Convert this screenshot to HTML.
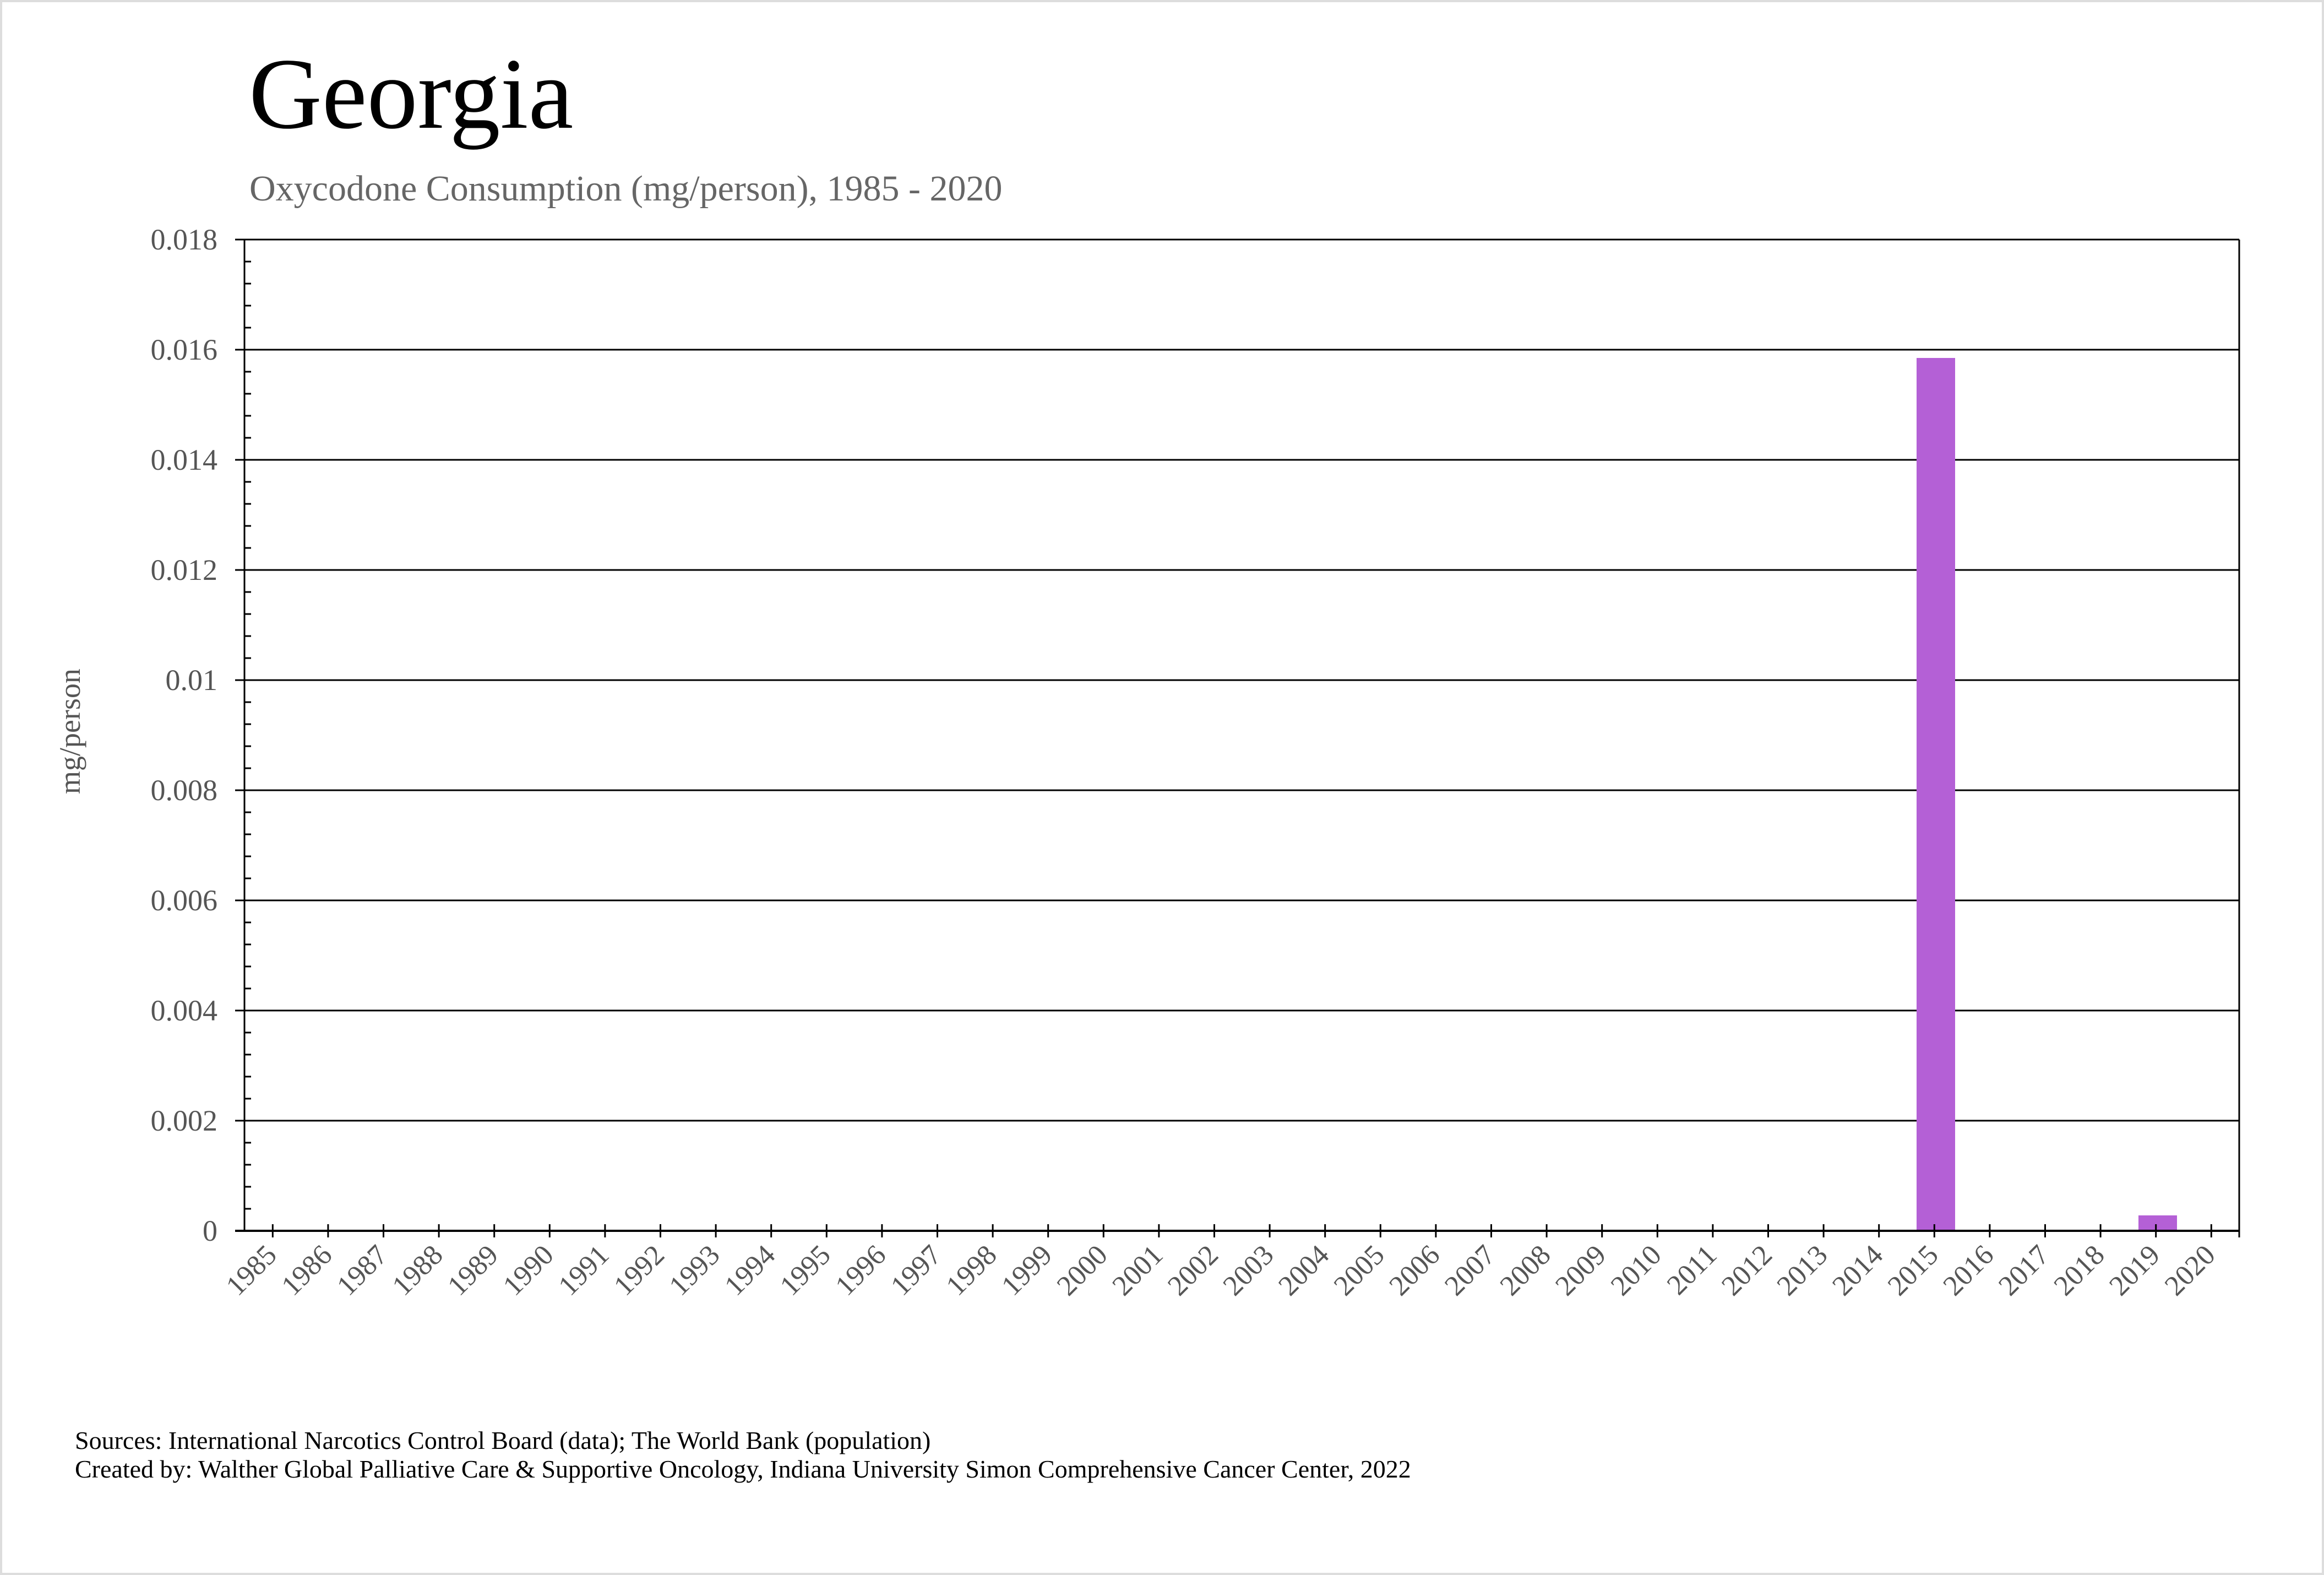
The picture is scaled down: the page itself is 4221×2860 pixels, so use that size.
<!DOCTYPE html>
<html><head><meta charset="utf-8"><style>
html,body{margin:0;padding:0;background:#fff}
svg{display:block}
</style></head><body>
<svg width="4221" height="2860" viewBox="0 0 4221 2860" xmlns="http://www.w3.org/2000/svg" font-family="'Liberation Serif', serif">
<rect x="2" y="2" width="4217" height="2856" fill="#fff" stroke="#ddd" stroke-width="4"/>
<text x="452" y="232" font-size="184" fill="#000">Georgia</text>
<text x="453" y="364" font-size="66" fill="#666">Oxycodone Consumption (mg/person), 1985 - 2020</text>
<g stroke="#000" stroke-width="3">
<line x1="427" y1="435" x2="4067" y2="435"/>
<line x1="427" y1="635" x2="4067" y2="635"/>
<line x1="427" y1="835" x2="4067" y2="835"/>
<line x1="427" y1="1035" x2="4067" y2="1035"/>
<line x1="427" y1="1235" x2="4067" y2="1235"/>
<line x1="427" y1="1435" x2="4067" y2="1435"/>
<line x1="427" y1="1635" x2="4067" y2="1635"/>
<line x1="427" y1="1835" x2="4067" y2="1835"/>
<line x1="427" y1="2035" x2="4067" y2="2035"/>
<line x1="4067" y1="435" x2="4067" y2="2247"/>
<line x1="444" y1="435" x2="444" y2="2235"/>
</g>
<g fill="#b460d6">
<rect x="3481" y="650" width="70" height="1585"/>
<rect x="3884" y="2207" width="70" height="28"/>
</g>
<line x1="427" y1="2235" x2="4067" y2="2235" stroke="#000" stroke-width="4"/>
<g id="minor" stroke="#000" stroke-width="3"></g>
<g id="xt" stroke="#000" stroke-width="3"></g>
<g id="yl" font-size="54" fill="#555" text-anchor="end">
<text x="395" y="453">0.018</text>
<text x="395" y="653">0.016</text>
<text x="395" y="853">0.014</text>
<text x="395" y="1053">0.012</text>
<text x="395" y="1253">0.01</text>
<text x="395" y="1453">0.008</text>
<text x="395" y="1653">0.006</text>
<text x="395" y="1853">0.004</text>
<text x="395" y="2053">0.002</text>
<text x="395" y="2253">0</text>
</g>
<g id="xl" font-size="52" fill="#555" text-anchor="end"></g>
<text transform="translate(145,1328) rotate(-90)" font-size="54" fill="#555" text-anchor="middle">mg/person</text>
<text x="136" y="2631" font-size="46" fill="#000">Sources: International Narcotics Control Board (data); The World Bank (population)</text>
<text x="136" y="2683" font-size="46" fill="#000">Created by: Walther Global Palliative Care &amp; Supportive Oncology, Indiana University Simon Comprehensive Cancer Center, 2022</text>
<script>
var ns="http://www.w3.org/2000/svg";
var m=document.getElementById("minor");
for(var i=0;i<45;i++){var y=435+i*40;if(i%5==0)continue;var l=document.createElementNS(ns,"line");l.setAttribute("x1",444);l.setAttribute("x2",456);l.setAttribute("y1",y);l.setAttribute("y2",y);m.appendChild(l);}
var xt=document.getElementById("xt"),xl=document.getElementById("xl");
for(var i=0;i<36;i++){var x=445+100.6*(i+0.5);var l=document.createElementNS(ns,"line");l.setAttribute("x1",x);l.setAttribute("x2",x);l.setAttribute("y1",2223);l.setAttribute("y2",2247);xt.appendChild(l);
var t=document.createElementNS(ns,"text");t.setAttribute("transform","translate("+(x+10)+",2282) rotate(-45)");t.textContent=1985+i;xl.appendChild(t);}
</script>
</svg>
</body></html>
